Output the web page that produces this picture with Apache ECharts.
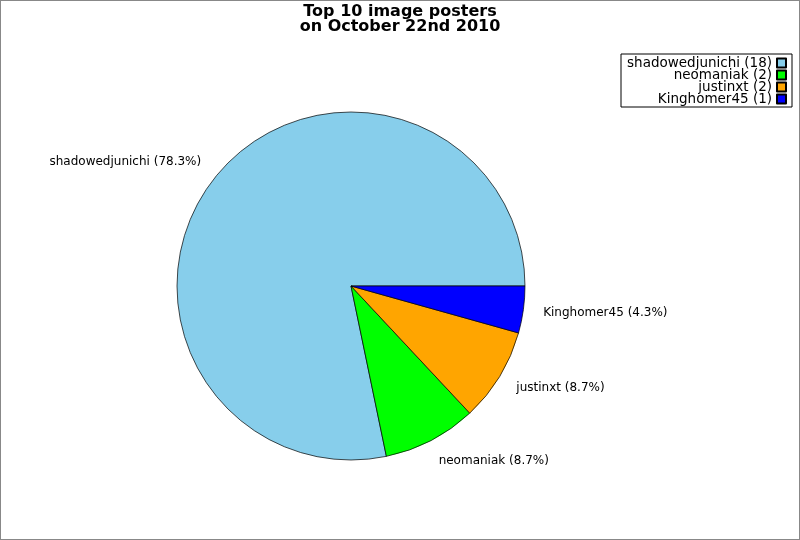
<!DOCTYPE html>
<html>
<head>
<meta charset="utf-8">
<script src="https://cdn.jsdelivr.net/npm/echarts@6/dist/echarts.min.js"></script>
<style>
html,body{margin:0;padding:0;background:#fff;}
#c{width:800px;height:540px;box-sizing:border-box;border:1px solid #888;}
</style>
</head>
<body>
<div id="c"></div>
<script>
const titleLines = ['Top 10 image posters', 'on October 22nd 2010'];
const names = ['shadowedjunichi', 'neomaniak', 'justinxt', 'Kinghomer45'];
const values = [18, 2, 2, 1];
const colors = ['#87CEEB', '#00FF00', '#FFA500', '#0000FF'];

const total = values.reduce((a, b) => a + b, 0);
const chart = echarts.init(document.getElementById('c'));
chart.setOption({
  animation: false,
  title: {
    text: titleLines.join('\n'),
    left: 'center',
    top: 1,
    padding: [2, 5, 2, 5],
    textStyle: { fontFamily: 'DejaVu Sans', fontSize: 16, fontWeight: 'bold', color: '#000', lineHeight: 15 }
  },
  legend: {
    orient: 'vertical',
    right: 7,
    top: 53,
    align: 'right',
    icon: 'rect',
    itemWidth: 9,
    itemHeight: 9,
    itemGap: -2,
    padding: [2, 5, 1, 5],
    borderColor: '#000',
    borderWidth: 1,
    data: names,
    formatter: function (n) { return n + ' (' + values[names.indexOf(n)] + ')'; },
    textStyle: { fontFamily: 'DejaVu Sans', fontSize: 13.5, color: '#000', width: 146, align: 'right', padding: [0, 0, 0, 0], lineHeight: 11 }
  },
  series: [{
    type: 'pie',
    center: [350, 285],
    radius: 174,
    startAngle: 0,
    clockwise: false,
    avoidLabelOverlap: false,
    itemStyle: { borderColor: '#000', borderWidth: 0.7 },
    label: {
      show: true,
      position: 'outside',
      distanceToLabelLine: -3,
      fontFamily: 'DejaVu Sans',
      fontSize: 12,
      color: '#000',
      formatter: function (p) { return p.name + ' (' + (p.value / total * 100).toFixed(1) + '%)'; }
    },
    labelLine: { show: false, length: 23, length2: 0 },
    emphasis: { disabled: true },
    data: names.map((n, i) => ({ name: n, value: values[i], itemStyle: { color: colors[i] } }))
  }]
});
</script>
</body>
</html>
